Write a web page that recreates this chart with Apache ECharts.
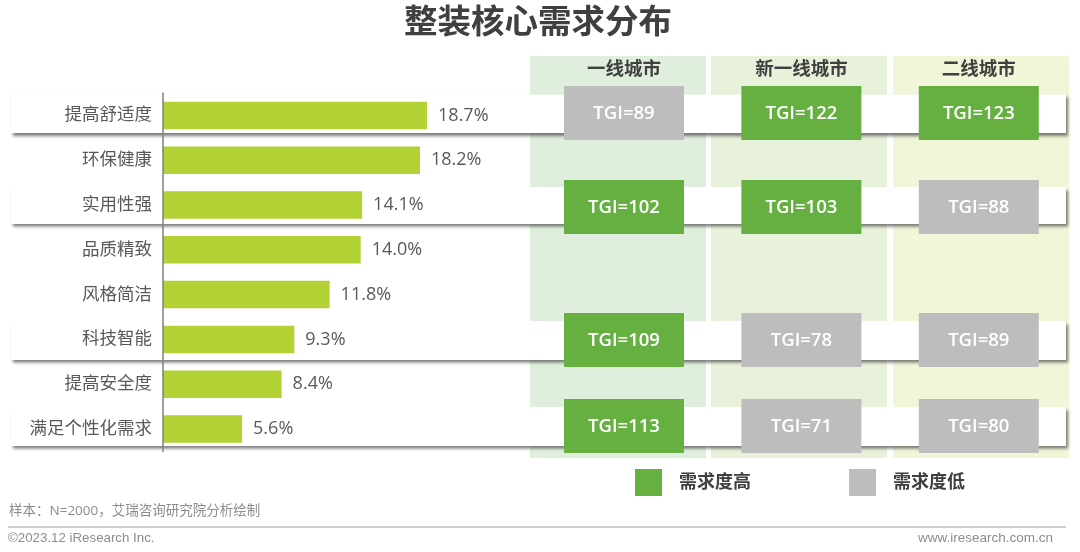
<!DOCTYPE html>
<html>
<head>
<meta charset="utf-8">
<style>html,body{margin:0;padding:0;background:#fff}#chart{width:1080px;height:552px}</style>
<script src="https://cdn.jsdelivr.net/npm/echarts@6/dist/echarts.min.js"></script>
</head>
<body>
<div id="chart"></div>
<script>
var categories = ['提高舒适度', '环保健康', '实用性强', '品质精致', '风格简洁', '科技智能', '提高安全度', '满足个性化需求'];
var shares = [18.7, 18.2, 14.1, 14.0, 11.8, 9.3, 8.4, 5.6];
var cities = ['一线城市', '新一线城市', '二线城市'];
var tgiTier1 = [89, null, 102, null, null, 109, null, 113];
var tgiNewTier1 = [122, null, 103, null, null, 78, null, 71];
var tgiTier2 = [123, null, 88, null, null, 89, null, 80];

// the tiles sit slightly off the row centres in the original
var tileNudge = [-2.4, 0, 2, 0, 0, 0.6, 0, -3];

var FONT = '"Open Sans", "Noto Sans CJK SC", sans-serif';
var TEXT = '#595959';
var GREEN = '#66B042';
var GREY = '#BDBDBD';

function tileData(high) {
    var out = [];
    [tgiTier1, tgiNewTier1, tgiTier2].forEach(function (values, c) {
        values.forEach(function (v, r) {
            if (v !== null && (v >= 100) === high) {
                out.push([c, r, v]);
            }
        });
    });
    return out;
}

function renderTile(params, api) {
    var p = api.coord([api.value(0), api.value(1)]);
    var w = 120, h = 54;
    var cy = p[1] + tileNudge[api.value(1)];
    return {
        type: 'group',
        children: [{
            type: 'rect',
            shape: {x: p[0] - w / 2, y: cy - h / 2, width: w, height: h},
            style: {fill: api.visual('color')}
        }, {
            type: 'text',
            x: p[0],
            y: cy + 0.5,
            style: {
                text: 'TGI=' + api.value(2),
                fill: '#fff',
                font: '600 18.5px ' + FONT,
                align: 'center',
                verticalAlign: 'middle'
            }
        }]
    };
}

function band(x, color) {
    return {type: 'rect', z: 0, shape: {x: x, y: 56, width: 176, height: 402}, style: {fill: color}};
}

function strip(y, h) {
    return {
        type: 'rect', z: 1,
        shape: {x: 11, y: y, width: 1055, height: h},
        style: {fill: '#fff', shadowBlur: 3, shadowColor: 'rgba(70,70,70,0.7)', shadowOffsetX: 2, shadowOffsetY: 2.5}
    };
}

function footText(x, y, text, align, font) {
    return {
        type: 'text', z: 1, x: x, y: y,
        style: {text: text, fill: '#8C8C8C', font: font, align: align, verticalAlign: 'middle'}
    };
}

var chart = echarts.init(document.getElementById('chart'));
chart.setOption({
    animation: false,
    backgroundColor: '#fff',
    title: {
        text: '整装核心需求分布',
        left: 533,
        top: 2,
        textAlign: 'center',
        textStyle: {fontFamily: FONT, fontSize: 33.5, fontWeight: 'bold', color: '#404040'}
    },
    legend: {
        left: 630,
        top: 464,
        itemWidth: 27,
        itemHeight: 27,
        itemGap: 98,
        data: [{name: '需求度高', icon: 'rect'}, {name: '需求度低', icon: 'rect'}],
        textStyle: {fontFamily: FONT, fontSize: 18, fontWeight: 'bold', color: '#404040', padding: [0, 0, 0, 12]}
    },
    grid: [
        {left: 163, top: 93, width: 282.4, height: 358.4},
        {left: 535.3, top: 93, width: 532.2, height: 358.4}
    ],
    xAxis: [
        {type: 'value', gridIndex: 0, min: 0, max: 20, show: false},
        {
            type: 'category', gridIndex: 1, position: 'top', data: cities, z: 5,
            axisLine: {show: false}, axisTick: {show: false},
            axisLabel: {margin: 14, fontFamily: FONT, fontSize: 18.5, fontWeight: 'bold', color: '#404040'}
        }
    ],
    yAxis: [
        {
            type: 'category', gridIndex: 0, inverse: true, data: categories, z: 5,
            axisLine: {lineStyle: {color: '#7F7F7F', width: 1.5}},
            axisTick: {show: false},
            axisLabel: {margin: 11, fontFamily: FONT, fontSize: 17.5, color: TEXT}
        },
        {type: 'category', gridIndex: 1, inverse: true, data: categories, show: false}
    ],
    series: [
        {
            type: 'bar',
            name: '占比',
            xAxisIndex: 0,
            yAxisIndex: 0,
            data: shares,
            barWidth: 27.5,
            itemStyle: {color: '#B2D235'},
            label: {
                show: true,
                position: 'right',
                distance: 11,
                fontFamily: FONT,
                fontSize: 18,
                color: TEXT,
                formatter: function (p) { return p.value.toFixed(1) + '%'; }
            }
        },
        {
            type: 'custom',
            name: '需求度高',
            xAxisIndex: 1,
            yAxisIndex: 1,
            data: tileData(true),
            itemStyle: {color: GREEN},
            renderItem: renderTile
        },
        {
            type: 'custom',
            name: '需求度低',
            xAxisIndex: 1,
            yAxisIndex: 1,
            data: tileData(false),
            itemStyle: {color: GREY},
            renderItem: renderTile
        }
    ],
    graphic: [
        band(530, '#E0EFDD'),
        band(711, '#E8F1DA'),
        band(893, '#F1F6D8'),
        strip(94.5, 38.5),
        strip(187, 37),
        strip(321, 39),
        strip(407, 39),
        {type: 'line', z: 1, shape: {x1: 8, y1: 527, x2: 1066, y2: 527}, style: {stroke: '#BFBFBF', lineWidth: 1.5}},
        footText(9, 511, '样本：N=2000，艾瑞咨询研究院分析绘制', 'left', '13.5px ' + FONT),
        footText(8, 538, '©2023.12 iResearch Inc.', 'left', '13.3px "Liberation Sans", sans-serif'),
        footText(1053, 538, 'www.iresearch.com.cn', 'right', '13.5px "Liberation Sans", sans-serif')
    ]
});
</script>
</body>
</html>
